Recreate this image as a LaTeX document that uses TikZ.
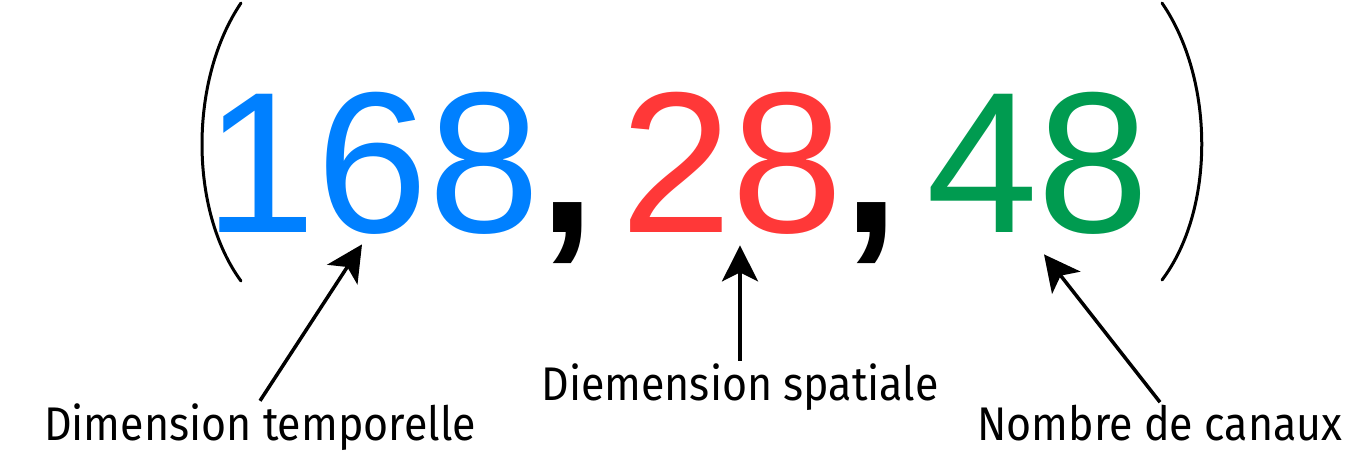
\documentclass[tikz,border=0pt]{standalone}
\usepackage{fontspec}
\usetikzlibrary{arrows.meta}
\usetikzlibrary{calc}
\newfontfamily\chiffres{Liberation Sans}
\newfontfamily\etiq[FakeStretch=0.91]{Fira Sans}
\definecolor{bleu}{RGB}{0,128,255}
\definecolor{rouge}{RGB}{255,56,56}
\definecolor{vert}{RGB}{0,155,80}

\begin{document}
\begin{tikzpicture}[x=0.5pt,y=-0.5pt,
  chiffre/.style={inner sep=0pt, anchor=base, font=\chiffres\fontsize{100.5pt}{100pt}\selectfont},
  virgule/.style={chiffre, font=\chiffres\bfseries\fontsize{100.5pt}{100pt}\selectfont},
  etiquette/.style={inner sep=1pt, anchor=base, font=\etiq\fontsize{23.6pt}{24pt}\selectfont},
  fleche/.style={line width=1.75pt, -{Stealth[length=18pt,width=18pt,inset=4.5pt]}},
  parenthese/.style={line width=1.5pt, line cap=round}]
\useasboundingbox (0,0) rectangle (1364,452);
  \node[chiffre, text=bleu] (temps) at (372.5,232) {168};
  \node[virgule] (virgA) at (567,232) {,};
  \node[chiffre, text=rouge] (espace) at (731.8,232) {28};
  \node[virgule] (virgB) at (871,232) {,};
  \node[chiffre, text=vert] (canaux) at (1037.8,232) {48};
\draw[parenthese] (241,3) .. controls (189,80) and (189,210) .. (241,281);
\draw[parenthese] (1162,3) .. controls (1215,80) and (1215,210) .. (1162,280);
  \node[etiquette] (labT) at (260,440) {Dimension temporelle};
  \node[etiquette] (labS) at (740,400) {Diemension spatiale};
  \node[etiquette] (labC) at (1160,440) {Nombre de canaux};
\draw[fleche] (labT.north) -- ($(temps.south)+(-10.5,10)$);
\draw[fleche] (labS.north) -- ($(labS.north |- espace.south)+(0,11)$);
\draw[fleche] (labC.north) -- ($(canaux.south)+(6.2,20)$);
\end{tikzpicture}
\end{document}
